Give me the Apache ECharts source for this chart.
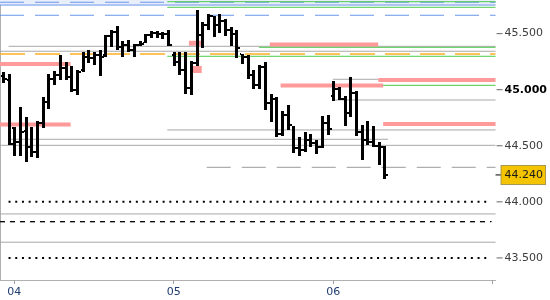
<!DOCTYPE html>
<html><head><meta charset="utf-8">
<script src="https://cdn.jsdelivr.net/npm/echarts@6/dist/echarts.min.js"></script>
<style>html,body{margin:0;padding:0;background:#fff}#c{width:550px;height:300px}</style>
</head><body><div id="c"></div>
<script>
// ---- data ----
const dayLabels = ['04', '05', '06', ''];
const dayIndex = [2, 30, 58, 86];
const slotCount = 87;
const opens = [45.12,45.087,44.659,44.534,44.632,44.489,44.445,44.703,44.891,45.096,45.131,45.194,45.114,44.998,45.176,45.292,45.283,45.310,45.310,45.479,45.515,45.381,45.399,45.354,45.399,45.417,45.488,45.506,45.497,45.497,45.310,45.247,45.176,45.015,45.238,45.488,45.577,45.657,45.577,45.613,45.533,45.497,45.319,45.292,45.131,45.042,45.203,44.882,44.917,44.605,44.775,44.685,44.480,44.463,44.552,44.525,44.489,44.703,44.944,45.007,44.917,44.792,44.971,44.623,44.552,44.534,44.498,44.489];
const highs = [45.16,45.140,44.668,44.846,44.757,44.668,44.721,44.935,45.140,45.167,45.310,45.247,45.212,45.176,45.336,45.354,45.336,45.354,45.488,45.533,45.568,45.435,45.443,45.408,45.435,45.497,45.524,45.524,45.515,45.533,45.336,45.336,45.336,45.256,45.711,45.604,45.675,45.657,45.675,45.631,45.559,45.533,45.319,45.310,45.176,45.221,45.247,44.962,44.935,44.810,44.864,44.677,44.578,44.623,44.605,44.552,44.766,44.775,45.078,45.024,44.944,45.114,44.989,44.685,44.721,44.677,44.534,44.498];
const lows = [45.06,44.507,44.409,44.409,44.356,44.400,44.391,44.659,44.828,45.042,45.087,45.087,44.980,44.953,45.158,45.238,45.221,45.122,45.292,45.381,45.354,45.292,45.336,45.292,45.390,45.417,45.461,45.461,45.452,45.390,45.212,45.131,44.962,44.953,45.212,45.372,45.533,45.470,45.506,45.479,45.390,45.283,45.229,45.096,45.007,45.007,44.819,44.712,44.578,44.587,44.641,44.436,44.409,44.445,44.489,44.427,44.480,44.596,44.900,44.908,44.677,44.757,44.587,44.373,44.507,44.489,44.329,44.204];
const closes = [45.092,44.516,44.534,44.623,44.489,44.445,44.703,44.891,45.096,45.131,45.194,45.114,44.998,45.158,45.292,45.283,45.310,45.292,45.479,45.515,45.381,45.399,45.354,45.399,45.408,45.488,45.506,45.497,45.497,45.399,45.247,45.176,45.015,45.238,45.488,45.577,45.657,45.577,45.613,45.533,45.497,45.372,45.292,45.131,45.042,45.203,44.882,44.917,44.605,44.775,44.685,44.480,44.463,44.552,44.525,44.489,44.703,44.650,45.007,44.917,44.792,44.971,44.623,44.552,44.534,44.498,44.489,44.240];
const lastPrice = 44.240;
const yMin = 43.303, yMax = 45.800;
const topBandFrom = 45.755;
// level segments: [slotStart, slotEnd, price]
const greyLevels = [[1.5,87,45.387],[0,87,45.343],[58.44,66.4,45.093],[58.44,87,44.908],[29.37,87,44.641],[1.5,68.1,44.558],[0,87,44.504],[0,87,43.892],[0,87,43.640]];
const greenLevels = [[29.37,87,45.785],[29.37,87,45.735],[45.46,87,45.378],[29.37,87,45.298],[58.6,87,45.039]];
const blueLevels = [[0,87,45.755]];
const blueDashLevels = [[0,87,45.780],[0,87,45.664]];
const orangeDashLevels = [[0,87,45.319]];
const greyDashLevels = [[36.3,87,44.308]];
const pinkLevels = [[0,12.4,45.229],[0,12.4,44.690],[47.36,66.4,45.403],[49.27,67.27,45.038],[66.4,87,45.087],[67.27,87,44.694]];
const pinkBoxLevels = [[33.17,35.42,45.414,5],[33.52,35.42,45.180,7]];
const dottedLevels = [[1.5,86,44.0],[1.5,86,43.5]];
const dashedBlackLevels = [[0,86.3,43.823]];

// ---- build ----
const categories = [];
for (let i = 0; i < slotCount; i++) {
  const k = dayIndex.indexOf(i);
  categories.push(k >= 0 ? dayLabels[k] : ' ');
}
const ohlc = opens.map((o, i) => [i, o, highs[i], lows[i], closes[i]]);
const FONT = 'DejaVu Sans';

const series = [];
function addLevels(levels, style, extra) {
  levels.forEach((s, i) => {
    const ser = {
      type: 'line', xAxisIndex: 1, yAxisIndex: 0, silent: true, animation: false,
      symbol: 'none', z: 1,
      lineStyle: Object.assign({}, style, s[3] ? { width: s[3] } : {}),
      data: [[s[0], s[2]], [s[1], s[2]]]
    };
    if (extra && i === 0) Object.assign(ser, extra);
    series.push(ser);
  });
}
addLevels(blueLevels, { color: '#6a95ea', width: 1 }, {
  markArea: { silent: true, itemStyle: { color: '#e9eefb' }, data: [[{ yAxis: topBandFrom }, { yAxis: yMax }]] }
});
addLevels(blueDashLevels, { color: '#6a95ea', width: 1, type: [24, 11] });
addLevels(greyLevels, { color: '#a8a8a8', width: 1 }, {
  markLine: {
    silent: true, animation: false, symbol: ['none', 'none'],
    lineStyle: { color: 'rgba(0,0,0,0)', width: 0 },
    label: {
      show: true, position: 'end', distance: 0,
      formatter: '{t|}{b|' + lastPrice.toFixed(3) + '}',
      rich: {
        t: { width: 6, height: 1, backgroundColor: '#000' },
        b: { backgroundColor: '#f5c400', borderColor: '#a89650', borderWidth: 1,
             padding: [4, 2, 3, 3], color: '#1a1a1a', fontSize: 11, fontFamily: FONT }
      }
    },
    data: [{ yAxis: lastPrice }]
  }
});
addLevels(greenLevels, { color: '#4ccb4c', width: 1 });
addLevels(orangeDashLevels, { color: '#ffae22', width: 1.5, type: [25, 10] });
addLevels(greyDashLevels, { color: '#9a9a9a', width: 1, type: [24, 11] });
addLevels(pinkLevels, { color: '#ff9a9a', width: 4 });
addLevels(pinkBoxLevels, { color: '#ff9a9a', width: 5 });
addLevels(dottedLevels, { color: '#000', width: 2, type: [2, 4.7] });
addLevels(dashedBlackLevels, { color: '#000', width: 1.3, type: [5, 5] });

series.push({
  type: 'custom', xAxisIndex: 0, yAxisIndex: 0, z: 10, silent: true, animation: false,
  encode: { x: 0, y: [1, 2, 3, 4] },
  data: ohlc,
  renderItem: function (params, api) {
    const x = api.value(0);
    const pO = api.coord([x, api.value(1)]);
    const pH = api.coord([x, api.value(2)]);
    const pL = api.coord([x, api.value(3)]);
    const pC = api.coord([x, api.value(4)]);
    const cx = Math.round(pH[0]);
    const yh = Math.round(pH[1]), yl = Math.round(pL[1]);
    const st = { fill: '#000', stroke: null, lineWidth: 0 };
    return {
      type: 'group',
      children: [
        { type: 'rect', shape: { x: cx - 1, y: yh, width: 3, height: Math.max(1, yl - yh) }, style: st },
        { type: 'rect', shape: { x: cx - 2, y: Math.round(pO[1]) - 1, width: 1, height: 2 }, style: st },
        { type: 'rect', shape: { x: cx + 2, y: Math.round(pC[1]) - 1, width: 2, height: 2 }, style: st }
      ]
    };
  }
});

const isDay = (idx) => dayIndex.indexOf(idx) >= 0;
const chart = echarts.init(document.getElementById('c'), null, { renderer: 'canvas' });
chart.setOption({
  animation: false,
  backgroundColor: '#fff',
  grid: { left: -3.667, right: 51, top: 0, bottom: 20, containLabel: false },
  xAxis: [{
    type: 'category', data: categories, boundaryGap: true, position: 'bottom',
    axisLine: { show: true, lineStyle: { color: '#b0b0b0', width: 1 } },
    axisTick: { show: true, alignWithLabel: true, interval: isDay, length: 4, lineStyle: { color: '#a0a0a0' } },
    axisLabel: { interval: isDay, color: '#1f3c70', fontSize: 11, fontFamily: FONT, margin: 7 },
    splitLine: { show: false }
  }, {
    type: 'value', min: 0, max: slotCount, show: false
  }],
  yAxis: [{
    type: 'value', position: 'right', min: yMin, max: yMax, splitNumber: 5,
    minInterval: 0.5, maxInterval: 0.5, scale: true,
    axisLine: { show: true, lineStyle: { color: '#b0b0b0', width: 1 } },
    axisTick: { show: false },
    splitLine: { show: false },
    axisLabel: {
      margin: 1, fontSize: 11, fontFamily: FONT, color: '#3c3c3c',
      formatter: function (v) {
        if (Math.abs(v * 2 - Math.round(v * 2)) > 1e-6) return '';
        const s = v.toFixed(3);
        return '{t|}{' + (Math.abs(v - 45) < 1e-6 ? 'b' : 'n') + '|' + s + '}';
      },
      rich: {
        t: { width: 6, height: 1, backgroundColor: '#666' },
        n: { padding: [0, 0, 0, 2], color: '#3c3c3c', fontSize: 11, fontFamily: FONT },
        b: { padding: [0, 0, 0, 2], color: '#000', fontWeight: 'bold', fontSize: 11, fontFamily: FONT }
      }
    }
  }],
  series: series
});
</script></body></html>
